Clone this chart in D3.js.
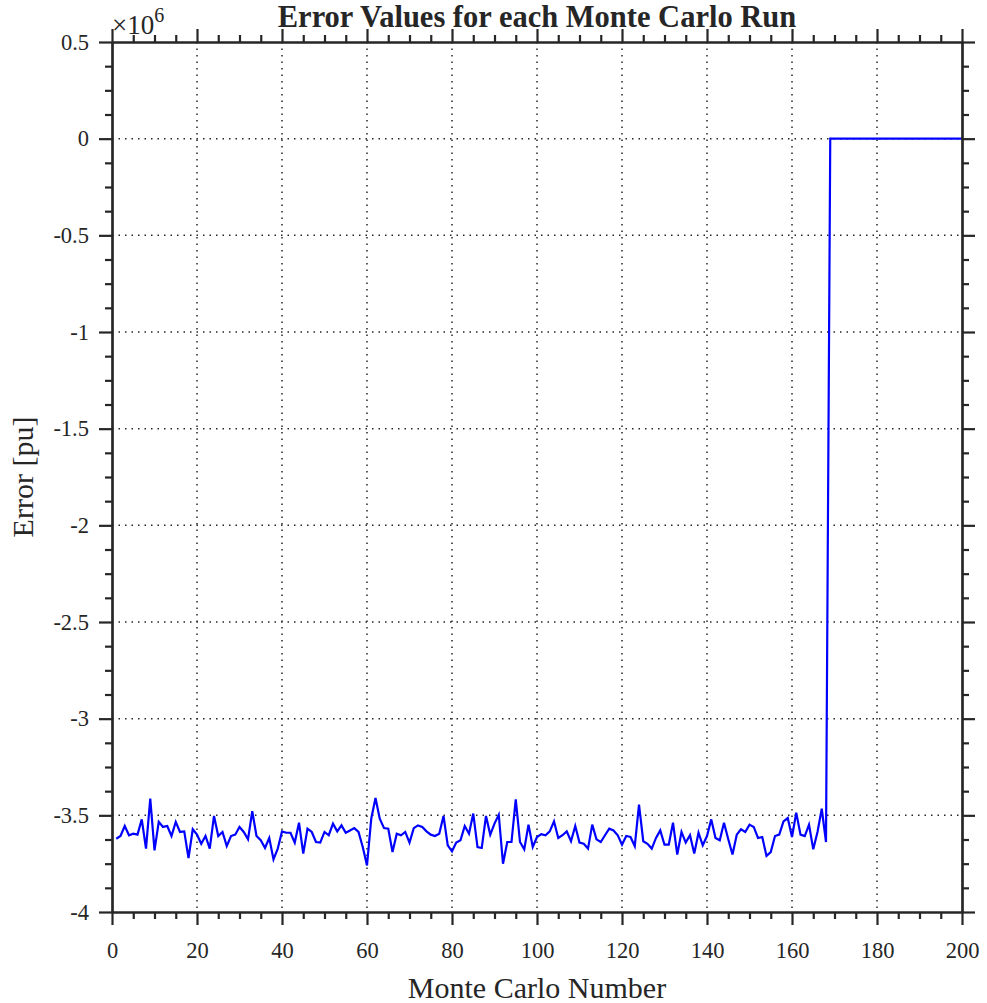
<!DOCTYPE html>
<html>
<head>
<meta charset="utf-8">
<script src="https://cdn.jsdelivr.net/npm/d3@7"></script>
<style>
  body { margin: 0; background: #fff; }
  text { font-family: "Liberation Serif", "Times New Roman", serif; fill: #262626; }
</style>
</head>
<body>
<div id="chart"></div>
<script>
// error per Monte Carlo run, in units of 1e6 pu (runs 1..168 diverged, 169..200 are zero)
const lowRuns = [
  -3.621, -3.607, -3.555, -3.603, -3.595, -3.600, -3.521, -3.672, -3.414, -3.681,
  -3.534, -3.560, -3.555, -3.607, -3.534, -3.586, -3.583, -3.721, -3.572, -3.600,
  -3.647, -3.607, -3.672, -3.503, -3.607, -3.586, -3.659, -3.607, -3.600, -3.560,
  -3.586, -3.624, -3.479, -3.607, -3.629, -3.669, -3.617, -3.728, -3.672, -3.583,
  -3.590, -3.590, -3.641, -3.538, -3.698, -3.569, -3.586, -3.638, -3.641, -3.586,
  -3.603, -3.543, -3.583, -3.552, -3.590, -3.578, -3.566, -3.586, -3.664, -3.759,
  -3.517, -3.410, -3.517, -3.566, -3.569, -3.690, -3.595, -3.603, -3.586, -3.641,
  -3.566, -3.552, -3.560, -3.583, -3.600, -3.607, -3.595, -3.503, -3.655, -3.686,
  -3.641, -3.629, -3.555, -3.595, -3.491, -3.664, -3.669, -3.503, -3.600, -3.543,
  -3.497, -3.750, -3.638, -3.638, -3.417, -3.638, -3.676, -3.548, -3.664, -3.612,
  -3.597, -3.603, -3.583, -3.531, -3.617, -3.603, -3.583, -3.634, -3.555, -3.641,
  -3.647, -3.672, -3.548, -3.624, -3.638, -3.603, -3.569, -3.578, -3.603, -3.652,
  -3.607, -3.612, -3.659, -3.445, -3.634, -3.647, -3.672, -3.617, -3.578, -3.652,
  -3.652, -3.538, -3.703, -3.586, -3.641, -3.603, -3.698, -3.590, -3.655, -3.607,
  -3.521, -3.617, -3.629, -3.538, -3.624, -3.703, -3.600, -3.572, -3.586, -3.548,
  -3.560, -3.617, -3.612, -3.710, -3.690, -3.607, -3.600, -3.531, -3.514, -3.612,
  -3.486, -3.600, -3.607, -3.548, -3.676, -3.586, -3.466, -3.638
];
const zeroRuns = [
  0, 0, 0, 0, 0, 0, 0, 0, 0, 0, 0, 0, 0, 0, 0, 0,
  0, 0, 0, 0, 0, 0, 0, 0, 0, 0, 0, 0, 0, 0, 0, 0
];
const xTicks = [0, 20, 40, 60, 80, 100, 120, 140, 160, 180, 200];
const yTicks = [-4, -3.5, -3, -2.5, -2, -1.5, -1, -0.5, 0, 0.5];
const yTickLabels = ["-4", "-3.5", "-3", "-2.5", "-2", "-1.5", "-1", "-0.5", "0", "0.5"];

const errors = lowRuns.concat(zeroRuns);
const data = errors.map((v, i) => ({ run: i + 1, value: v }));

const width = 987, height = 1003;
const margin = { top: 42, right: 25, bottom: 91, left: 112 };
const innerW = width - margin.left - margin.right;
const innerH = height - margin.top - margin.bottom;
const axisColor = "#262626";

const svg = d3.select("#chart").append("svg")
  .attr("width", width)
  .attr("height", height);

const g = svg.append("g")
  .attr("transform", `translate(${margin.left},${margin.top})`);

const x = d3.scaleLinear().domain([0, 200]).range([0, innerW]);
const y = d3.scaleLinear().domain([-4, 0.5]).range([innerH, 0]);

// grid
g.append("g").selectAll("line")
  .data(xTicks.slice(1, -1))
  .join("line")
  .attr("x1", d => x(d)).attr("x2", d => x(d))
  .attr("y1", 0).attr("y2", innerH)
  .attr("stroke", axisColor)
  .attr("stroke-width", 1.5)
  .attr("stroke-dasharray", "1.5,5");

g.append("g").selectAll("line")
  .data(yTicks.slice(1, -1))
  .join("line")
  .attr("x1", 0).attr("x2", innerW)
  .attr("y1", d => y(d)).attr("y2", d => y(d))
  .attr("stroke", axisColor)
  .attr("stroke-width", 1.5)
  .attr("stroke-dasharray", "1.5,5");

// data line
const line = d3.line()
  .x(d => x(d.run))
  .y(d => y(d.value));

g.append("path")
  .datum(data)
  .attr("fill", "none")
  .attr("stroke", "#0000ff")
  .attr("stroke-width", 2.2)
  .attr("d", line);

// axes: ticks point outwards on all four sides
const xMinor = d3.range(0, 201, 5).filter(v => v % 20 !== 0);
const yMinor = d3.range(-4, 0.51, 0.125).filter(v => Math.abs(v * 2 - Math.round(v * 2)) > 1e-6);

function styleAxis(sel) {
  sel.select(".domain").attr("stroke", axisColor).attr("stroke-width", 2.2);
  sel.selectAll(".tick line").attr("stroke", axisColor).attr("stroke-width", 2.2);
  sel.selectAll(".tick text")
    .style("font-size", "22.5px")
    .style("font-family", "Liberation Serif, serif")
    .attr("fill", axisColor);
}

const axes = [
  { gen: d3.axisBottom, scale: x, ticks: xTicks, minor: xMinor, tr: `translate(0,${innerH})`, labels: true },
  { gen: d3.axisTop, scale: x, ticks: xTicks, minor: xMinor, tr: "translate(0,0)", labels: false },
  { gen: d3.axisLeft, scale: y, ticks: yTicks, minor: yMinor, tr: "translate(0,0)", labels: true },
  { gen: d3.axisRight, scale: y, ticks: yTicks, minor: yMinor, tr: `translate(${innerW},0)`, labels: false }
];

axes.forEach(a => {
  g.append("g")
    .attr("transform", a.tr)
    .call(a.gen(a.scale).tickValues(a.minor).tickSize(7).tickSizeOuter(0).tickFormat(""))
    .call(styleAxis);
  const isY = a.scale === y;
  g.append("g")
    .attr("transform", a.tr)
    .call(a.gen(a.scale).tickValues(a.ticks).tickSize(13).tickSizeOuter(0)
      .tickPadding(isY ? 10 : 17)
      .tickFormat(a.labels ? (d, i) => (isY ? yTickLabels[i] : d) : ""))
    .call(styleAxis);
});

// exponent label
const expo = g.append("text")
  .attr("x", 0)
  .attr("y", -8)
  .style("font-size", "27px");
expo.append("tspan").text("×10");
expo.append("tspan").attr("dy", -12).style("font-size", "20px").text("6");

// title
svg.append("text")
  .attr("x", margin.left + innerW / 2)
  .attr("y", 27)
  .attr("text-anchor", "middle")
  .style("font-size", "30.5px")
  .style("font-weight", "bold")
  .attr("fill", "#000")
  .text("Error Values for each Monte Carlo Run");

// axis labels
svg.append("text")
  .attr("x", margin.left + innerW / 2)
  .attr("y", 998)
  .attr("text-anchor", "middle")
  .style("font-size", "30px")
  .text("Monte Carlo Number");

svg.append("text")
  .attr("transform", `translate(33,${margin.top + innerH / 2}) rotate(-90)`)
  .attr("text-anchor", "middle")
  .style("font-size", "30px")
  .text("Error [pu]");
</script>
</body>
</html>
